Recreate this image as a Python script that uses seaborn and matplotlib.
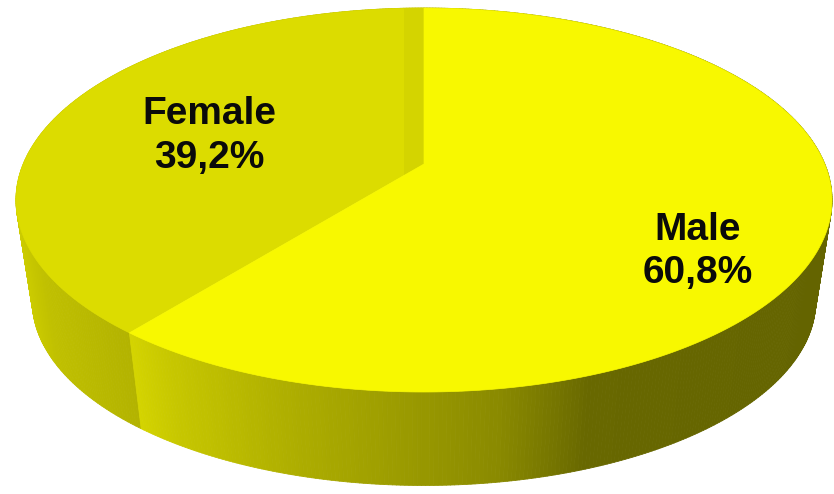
import numpy as np
import matplotlib
matplotlib.use("Agg")
import matplotlib.pyplot as plt
from matplotlib.collections import PolyCollection
from matplotlib.patches import Polygon
import seaborn as sns

# Survey shares, drawn counter-clockwise from twelve o'clock
categories = ["Female", "Male"]
shares = [39.2, 60.8]

top_colors = ["#dcdc00", "#f8f800"]
band_color = "#d4d400"
text_color = "#0a0a0a"

# Shading of the rim: (screen x, grey-yellow level) stops for each slice
rim_stops = {
    "Female": ([15, 45, 70, 135], [206, 192, 188, 178]),
    "Male": ([130, 175, 280, 420, 500, 560, 590, 830], [212, 198, 176, 152, 138, 116, 104, 100]),
}
label_positions = {"Female": (209, 136), "Male": (698, 251)}
label_spacing = {"Female": 1.3, "Male": 1.25}

# Perspective model of the disc, in pixels
CX, CY = 424.0, 164.0
A, B, K = 400.8, 185.25, 0.1875
BASE_SCALE = 0.96
BASE_DROP = 102.6


def project(t, scale=1.0, drop=0.0):
    """Project disc angle t (deg, ccw from the top) on to the screen."""
    r = np.radians(t)
    u, v = -np.sin(r), np.cos(r)
    w = 1 + K * v
    return CX + scale * A * u / w, CY + drop - scale * B * v / w


sns.set_theme(style="white")
plt.rcParams["font.family"] = ["Liberation Sans", "DejaVu Sans"]

fig = plt.figure(figsize=(8.34, 4.94), dpi=100)
ax = fig.add_axes([0, 0, 1, 1])
ax.set_xlim(0, 834)
ax.set_ylim(494, 0)
ax.axis("off")

edges = np.cumsum([0] + shares) / sum(shares) * 360

# Rim facets, far side first so the near ones land on top
facets = []
for name, start, stop in zip(categories, edges[:-1], edges[1:]):
    steps = np.linspace(start, stop, int(stop - start) * 2 + 2)
    xs, levels = rim_stops[name]
    for a0, a1 in zip(steps[:-1], steps[1:]):
        x0, y0 = project(a0)
        x1, y1 = project(a1)
        x2, y2 = project(a1, BASE_SCALE, BASE_DROP)
        x3, y3 = project(a0, BASE_SCALE, BASE_DROP)
        level = np.interp((x0 + x1) / 2, xs, levels) / 255
        depth = np.cos(np.radians((a0 + a1) / 2))
        facets.append((-depth, [(x0, y0), (x1, y1), (x2, y2), (x3, y3)], (level, level, 0)))
facets.sort(key=lambda f: f[0])
ax.add_collection(PolyCollection(
    [f[1] for f in facets],
    facecolors=[f[2] for f in facets],
    edgecolors=[f[2] for f in facets],
    linewidths=0.6,
))

# Top faces of the two slices
palette = sns.color_palette(top_colors)
for name, start, stop, color in zip(categories, edges[:-1], edges[1:], palette):
    angles = np.linspace(start, stop, 300)
    px, py = project(angles)
    verts = [(CX, CY)] + list(zip(px, py))
    face = Polygon(verts, closed=True, facecolor=color, edgecolor=color, linewidth=0.5)
    ax.add_patch(face)
    if name == "Female":
        band = ax.axvspan(404, CX, color=band_color, linewidth=0)
        band.set_clip_path(face)
    lx, ly = label_positions[name]
    value = shares[categories.index(name)]
    ax.text(lx, ly, f"{name}\n{value:.1f}%".replace(".", ","), ha="center", va="center",
            fontsize=28, fontweight="bold", color=text_color, linespacing=label_spacing[name])

fig.savefig("out.png", dpi=100, facecolor="white")
